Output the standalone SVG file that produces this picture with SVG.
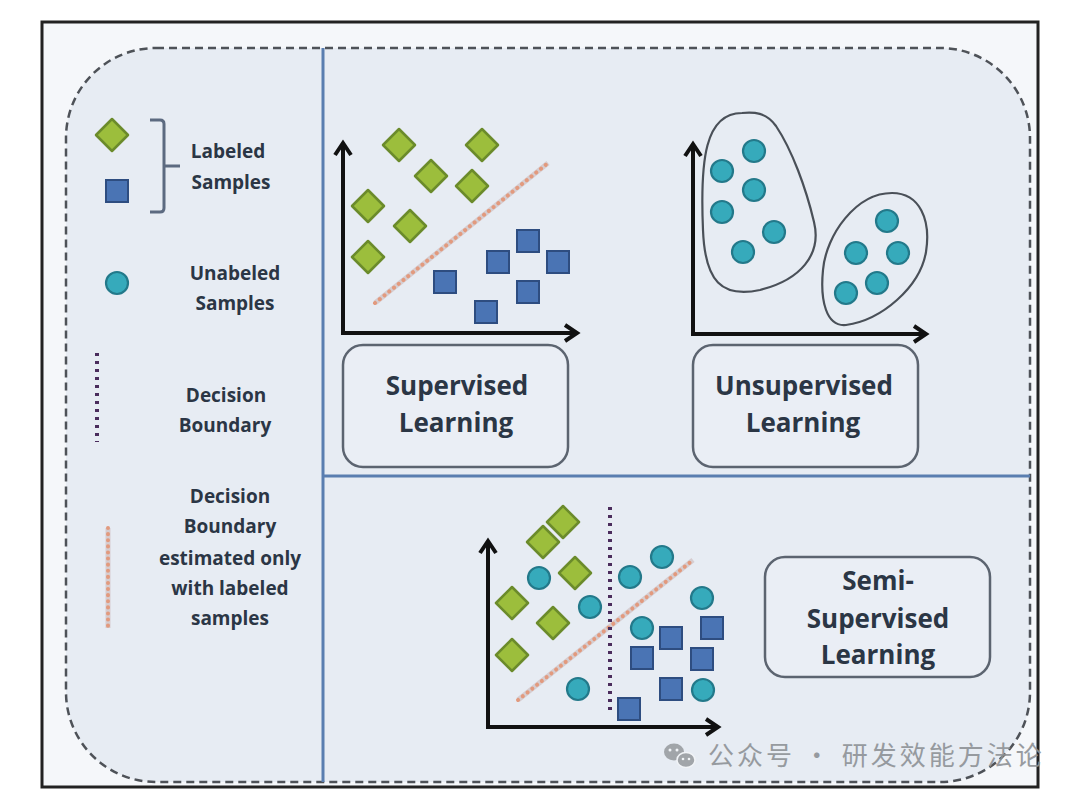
<svg xmlns="http://www.w3.org/2000/svg" xmlns:xlink="http://www.w3.org/1999/xlink" width="1080" height="800" viewBox="0 0 1080 800">
<style>
.t{font-family:"Open Sans","Liberation Sans",sans-serif;font-weight:700;fill:#2b3645;text-anchor:middle}
.lg{font-size:19px}
.bx{font-size:26px}
.axis{fill:none;stroke:#111;stroke-width:4;stroke-linejoin:miter;stroke-linecap:butt}
.box{fill:#eaeef5;stroke:#5c6470;stroke-width:2.5}
.blob{fill:none;stroke:#4a5058;stroke-width:2.2}
.est{fill:none;stroke:#e29a7e;stroke-width:4;stroke-dasharray:0.1 6;stroke-linecap:round}
.est0{fill:none;stroke:#d6cdd0;stroke-width:5}
.dec{fill:none;stroke:#4a2c5c;stroke-width:4;stroke-dasharray:3 5}
.div{stroke:#5a7eb0;stroke-width:3}
.wm{font-family:"Noto Sans CJK SC","Noto Sans",sans-serif;font-size:26px;fill:#8e9296;letter-spacing:3px}
</style>
<defs>
<polygon id="dia" points="0,-16 16,0 0,16 -16,0" fill="#9cbe3c" stroke="#6b8b2b" stroke-width="2.5" stroke-linejoin="round"/>
<rect id="sq" x="-11" y="-11" width="22" height="22" fill="#4a74b4" stroke="#2e4d80" stroke-width="2"/>
<circle id="cir" r="11" fill="#36aabb" stroke="#23798a" stroke-width="2.2"/>
</defs>
<rect width="1080" height="800" fill="#ffffff"/>
<rect x="42" y="22" width="996" height="765" fill="#f5f7fa" stroke="#222" stroke-width="3"/>
<g id="panel">
<rect x="66" y="48" width="964" height="734" rx="90" ry="90" fill="#e7ecf3" stroke="#4e5258" stroke-width="2.5" stroke-dasharray="8 5"/>
<line class="div" x1="323" y1="48" x2="323" y2="782"/>
<line class="div" x1="323" y1="476" x2="1030" y2="476"/>
</g>
<g id="legend">
<use xlink:href="#dia" x="112" y="135"/>
<use xlink:href="#sq" x="117" y="191"/>
<path d="M150,120 H160 Q164,120 164,124 V208 Q164,212 160,212 H150 M164,166 H180" fill="none" stroke="#5c6a80" stroke-width="3"/>
<text class="t lg" x="228" y="158">Labeled</text>
<text class="t lg" x="231" y="189">Samples</text>
<use xlink:href="#cir" x="117" y="283"/>
<text class="t lg" x="235" y="280">Unabeled</text>
<text class="t lg" x="235" y="310">Samples</text>
<line class="dec" x1="97" y1="353" x2="97" y2="442" stroke-width="3"/>
<text class="t lg" x="226" y="402">Decision</text>
<text class="t lg" x="225" y="432">Boundary</text>
<line class="est0" x1="108" y1="528" x2="108" y2="628" stroke-width="4"/>
<line class="est" x1="108" y1="528" x2="108" y2="628" stroke-width="3.5"/>
<text class="t lg" x="230" y="503">Decision</text>
<text class="t lg" x="230" y="533">Boundary</text>
<text class="t lg" x="230" y="565">estimated only</text>
<text class="t lg" x="230" y="595">with labeled</text>
<text class="t lg" x="230" y="625">samples</text>
</g>
<g id="supervised-plot">
<line class="est0" x1="375" y1="303" x2="548" y2="163"/>
<line class="est" x1="375" y1="303" x2="548" y2="163"/>
<use xlink:href="#dia" x="399" y="145"/>
<use xlink:href="#dia" x="482" y="145"/>
<use xlink:href="#dia" x="431" y="176"/>
<use xlink:href="#dia" x="472" y="186"/>
<use xlink:href="#dia" x="368" y="206"/>
<use xlink:href="#dia" x="410" y="226"/>
<use xlink:href="#dia" x="368" y="257"/>
<use xlink:href="#sq" x="528" y="241"/>
<use xlink:href="#sq" x="498" y="262"/>
<use xlink:href="#sq" x="558" y="262"/>
<use xlink:href="#sq" x="445" y="282"/>
<use xlink:href="#sq" x="528" y="292"/>
<use xlink:href="#sq" x="486" y="312"/>
<path class="axis" d="M343,143 V333 H577"/>
<polyline class="axis" points="335,155 343,143 351,155"/>
<polyline class="axis" points="565,325 577,333 565,341"/>
</g>
<g id="supervised-label">
<rect class="box" x="343" y="345" width="225" height="122" rx="20"/>
<text class="t bx" x="457" y="395">Supervised</text>
<text class="t bx" x="456" y="432">Learning</text>
</g>
<g id="unsupervised-plot">
<path class="blob" d="M742,113 C705,113 700,160 703,230 C705,282 722,298 760,290 C800,280 822,255 814,222 C806,188 792,150 776,126 C766,112 754,112 742,113 Z"/>
<path class="blob" d="M892,193 C920,193 931,220 926,252 C920,287 882,320 846,325 C826,327 820,300 823,270 C826,235 856,193 892,193 Z"/>
<use xlink:href="#cir" x="754" y="151"/>
<use xlink:href="#cir" x="722" y="171"/>
<use xlink:href="#cir" x="754" y="190"/>
<use xlink:href="#cir" x="722" y="212"/>
<use xlink:href="#cir" x="774" y="232"/>
<use xlink:href="#cir" x="743" y="252"/>
<use xlink:href="#cir" x="887" y="221"/>
<use xlink:href="#cir" x="856" y="253"/>
<use xlink:href="#cir" x="898" y="253"/>
<use xlink:href="#cir" x="877" y="283"/>
<use xlink:href="#cir" x="846" y="293"/>
<path class="axis" d="M693,144 V334 H926"/>
<polyline class="axis" points="685,156 693,144 701,156"/>
<polyline class="axis" points="914,326 926,334 914,342"/>
</g>
<g id="unsupervised-label">
<rect class="box" x="693" y="345" width="225" height="122" rx="20"/>
<text class="t bx" x="804" y="395">Unsupervised</text>
<text class="t bx" x="803" y="432">Learning</text>
</g>
<g id="semi-supervised-plot">
<line class="est0" x1="518" y1="700" x2="693" y2="560"/>
<line class="est" x1="518" y1="700" x2="693" y2="560"/>
<line class="dec" x1="610" y1="507" x2="610" y2="710"/>
<use xlink:href="#dia" x="563" y="522"/>
<use xlink:href="#dia" x="543" y="542"/>
<use xlink:href="#dia" x="575" y="573"/>
<use xlink:href="#dia" x="512" y="603"/>
<use xlink:href="#dia" x="553" y="623"/>
<use xlink:href="#dia" x="512" y="655"/>
<use xlink:href="#cir" x="539" y="578"/>
<use xlink:href="#cir" x="662" y="557"/>
<use xlink:href="#cir" x="630" y="577"/>
<use xlink:href="#cir" x="590" y="607"/>
<use xlink:href="#cir" x="702" y="598"/>
<use xlink:href="#cir" x="642" y="628"/>
<use xlink:href="#cir" x="578" y="689"/>
<use xlink:href="#cir" x="703" y="690"/>
<use xlink:href="#sq" x="671" y="638"/>
<use xlink:href="#sq" x="712" y="628"/>
<use xlink:href="#sq" x="642" y="658"/>
<use xlink:href="#sq" x="702" y="659"/>
<use xlink:href="#sq" x="671" y="689"/>
<use xlink:href="#sq" x="629" y="709"/>
<path class="axis" d="M488,541 V727 H718"/>
<polyline class="axis" points="480,553 488,541 496,553"/>
<polyline class="axis" points="706,719 718,727 706,735"/>
</g>
<g id="semi-supervised-label">
<rect class="box" x="765" y="557" width="225" height="120" rx="20"/>
<text class="t bx" x="878" y="590">Semi-</text>
<text class="t bx" x="878" y="628">Supervised</text>
<text class="t bx" x="878" y="664">Learning</text>
</g>
<g id="watermark" opacity="0.9">
<ellipse cx="674" cy="752" rx="10" ry="8.5" fill="#9a9ea2"/>
<ellipse cx="686" cy="760" rx="9" ry="7.5" fill="#9a9ea2" stroke="#f3f5f8" stroke-width="1.5"/>
<circle cx="670" cy="750" r="1.5" fill="#f3f5f8"/>
<circle cx="677" cy="750" r="1.5" fill="#f3f5f8"/>
<circle cx="683" cy="759" r="1.3" fill="#f3f5f8"/>
<circle cx="689" cy="759" r="1.3" fill="#f3f5f8"/>
<text class="wm" x="708" y="765">公众号 · 研发效能方法论</text>
</g>
</svg>
